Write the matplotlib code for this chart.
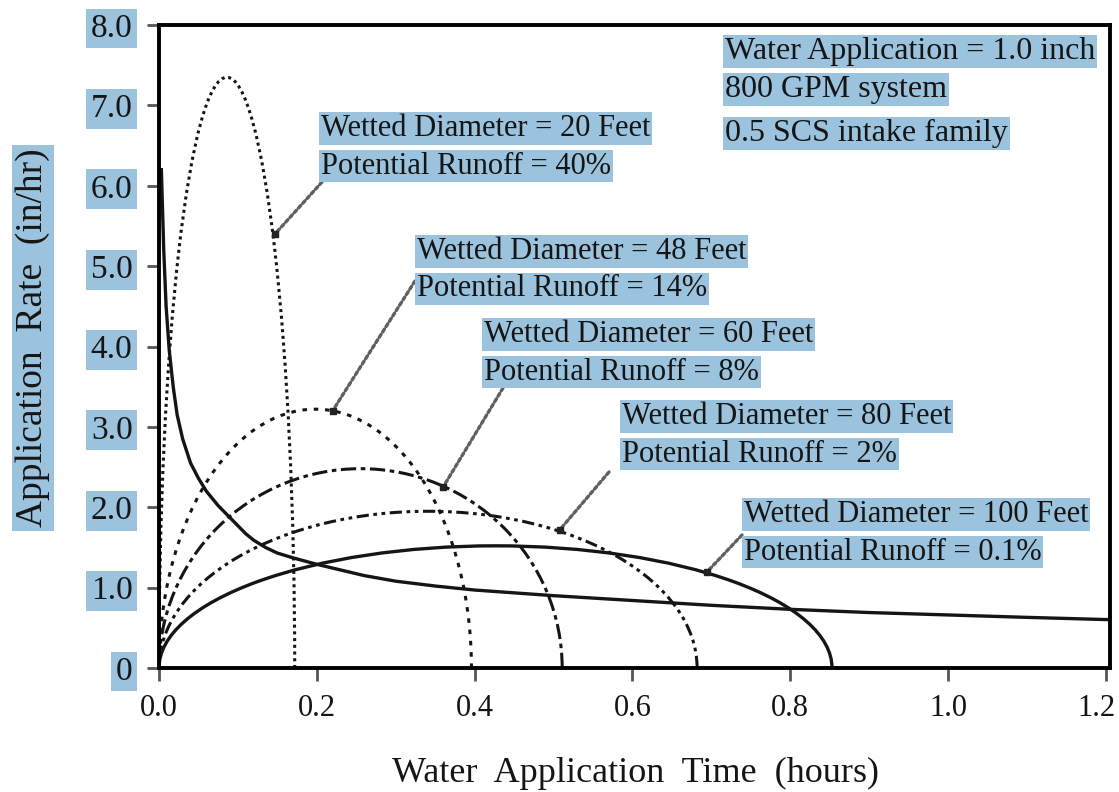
import matplotlib
matplotlib.use('Agg')
import matplotlib.pyplot as plt
from matplotlib.patches import Arc
from matplotlib.transforms import ScaledTranslation

# curves
diameters = [20, 48, 60, 80, 100]
runoff = ['40%', '14%', '8%', '2%', '0.1%']
end_time = [0.172, 0.396, 0.511, 0.682, 0.853]     # hours, where rate returns to 0
peak_rate = [7.35, 3.22, 2.48, 1.95, 1.52]          # in/hr
leader_x = [0.147, 0.220, 0.360, 0.508, 0.694]      # where the label lines touch the curves
leader_y = [5.40, 3.20, 2.25, 1.72, 1.19]

intake_time = [0.003, 0.006, 0.009, 0.013, 0.018, 0.023, 0.03, 0.04, 0.05, 0.06,
               0.075, 0.09, 0.10, 0.11, 0.12, 0.135, 0.15, 0.17, 0.20, 0.23,
               0.26, 0.30, 0.35, 0.40, 0.50, 0.60, 0.70, 0.80, 0.90, 1.00,
               1.10, 1.21]
intake_rate = [6.2, 5.2, 4.5, 3.95, 3.5, 3.15, 2.85, 2.55, 2.36, 2.20,
               2.02, 1.87, 1.77, 1.67, 1.59, 1.50, 1.43, 1.37, 1.29, 1.22,
               1.15, 1.08, 1.02, 0.97, 0.90, 0.84, 0.78, 0.73, 0.69, 0.66,
               0.63, 0.60]

x_ticks = [0.0, 0.2, 0.4, 0.6, 0.8, 1.0, 1.2]
y_ticks = [0, 1, 2, 3, 4, 5, 6, 7, 8]
y_ticklabels = ['0', '1.0', '2.0', '3.0', '4.0', '5.0', '6.0', '7.0', '8.0']

info_lines = ['Water Application = 1.0 inch', '800 GPM system', '0.5 SCS intake family']

BLUE = '#9bc3dd'
INK = '#151515'
plt.rcParams['font.family'] = ['Liberation Serif', 'DejaVu Serif']

W, H = 1119, 792
XS = 789   # pixels per hour
fig = plt.figure(figsize=(W / 100, H / 100), dpi=100)
ax = fig.add_axes([159 / W, 1 - 668 / H, 951 / W, 643 / H])
ax.set_xlim(0, 951 / XS)
ax.set_ylim(0, 8)


def px(x, y):
    # pixel position in the picture -> data coordinates
    return (x - 159) / XS, (668 - y) / 80.375


styles = [(0, (1.0, 1.2)), (0, (1.5, 2.2)), (0, (5, 1.5, 1.5, 1.5)),
          (0, (4, 1.5, 1.2, 1.5, 1.2, 1.5)), '-']
widths = [2.2, 2.2, 2.2, 2.2, 2.4]
for t, p, ls, lw in zip(end_time, peak_rate, styles, widths):
    ax.add_patch(Arc((t / 2, 0), t, 2 * p, theta1=0, theta2=180,
                     color=INK, lw=lw, linestyle=ls))

ax.plot(intake_time, intake_rate, color=INK, lw=2.4, solid_joinstyle='round')

# labels for each curve, one highlighted box per line
boxes = [(319, 112), (415, 235), (482, 318), (620, 400), (742, 498)]
starts = [(322, 182), (415, 281), (503, 388), (609, 472), (742, 535)]
fs = 22
pad = 0.06
for d, r, (bx, by), (sx, sy), lx, ly in zip(diameters, runoff, boxes, starts, leader_x, leader_y):
    for k, line in enumerate(['Wetted Diameter = %d Feet' % d, 'Potential Runoff = %s' % r]):
        tx, ty = px(bx + 2, by + 2 + k * 37.5)
        ax.text(tx, ty, line, fontsize=fs, color=INK, ha='left', va='top', zorder=5,
                bbox=dict(boxstyle='square,pad=%.2f' % pad, facecolor=BLUE, edgecolor='none'))
    ax.annotate('', xy=(lx, ly), xytext=px(sx, sy),
                arrowprops=dict(arrowstyle='-', color='#606060', lw=2.4,
                                linestyle=(0, (1.0, 0.9)), shrinkA=0, shrinkB=0), zorder=4)
    ax.plot(lx, ly, 's', color='#222222', ms=4.5, zorder=6)

for k, (line, top) in enumerate(zip(info_lines, [35, 73, 117])):
    tx, ty = px(725, top + 2)
    ax.text(tx, ty, line, fontsize=23, color=INK, ha='left', va='top', zorder=5,
            bbox=dict(boxstyle='square,pad=%.2f' % pad, facecolor=BLUE, edgecolor='none'))

ax.set_xticks(x_ticks)
ax.set_xticklabels(['%.1f' % v for v in x_ticks])
ax.set_yticks(y_ticks)
ax.set_yticklabels(y_ticklabels)
ax.tick_params(axis='both', direction='out', length=9, width=2, color='#555555',
               labelcolor=INK)
ax.tick_params(axis='x', pad=10, labelsize=22)
ax.tick_params(axis='y', pad=10, labelsize=24)
for lab in ax.get_yticklabels():
    lab.set_bbox(dict(boxstyle='square,pad=0.14', facecolor=BLUE, edgecolor='none'))
# last x label sits a little left of its tick, as in the original
last = ax.get_xticklabels()[-1]
last.set_transform(last.get_transform() + ScaledTranslation(-9 / 100, 0, fig.dpi_scale_trans))

for sp in ax.spines.values():
    sp.set_linewidth(2.8)
    sp.set_color('black')

fig.text(33 / W, 1 - 338 / H, 'Application  Rate  (in/hr)', rotation=90, fontsize=27,
         ha='center', va='center', color=INK,
         bbox=dict(boxstyle='square,pad=0.1', facecolor=BLUE, edgecolor='none'))
fig.text(635 / W, 1 - 773 / H, 'Water  Application  Time  (hours)', fontsize=26,
         ha='center', va='center', color=INK)

fig.savefig('out.png', dpi=100)
